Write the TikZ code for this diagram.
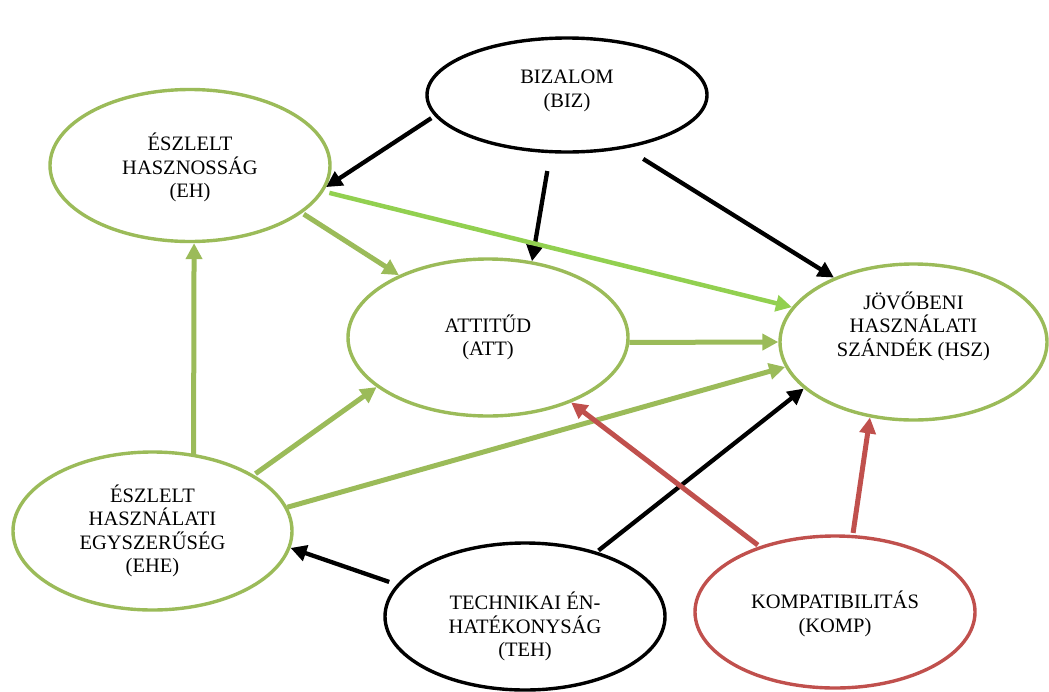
\documentclass[tikz,border=0pt]{standalone}
\usepackage{fontspec}
\setmainfont{Liberation Serif}
\usetikzlibrary{arrows.meta,shapes.geometric}
\definecolor{olivegreen}{HTML}{9BBB59}
\definecolor{lightgreen}{HTML}{92D050}
\definecolor{brickred}{HTML}{C0504D}
\begin{document}
\begin{tikzpicture}[x=1pt,y=1pt,
  ell/.style={ellipse, draw, line width=3.4pt, inner sep=0pt, minimum width=280pt},
  gell/.style={ell, draw=olivegreen},
  bell/.style={ell, draw=black},
  rell/.style={ell, draw=brickred},
  lbl/.style={font=\fontsize{20.5}{23.5}\selectfont, align=center, text=black, inner sep=0pt},
  tip/.style={-{Triangle[length=16pt,width=16pt]}},
  barr/.style={tip, line width=4.3pt, draw=black},
  garr/.style={tip, line width=5pt, draw=olivegreen},
  lgarr/.style={tip, line width=4.5pt, draw=lightgreen},
  rarr/.style={tip, line width=5pt, draw=brickred},
]
\useasboundingbox (0,0) rectangle (1049,-691);

% constructs
\node[bell, minimum height=114pt,
  label={[lbl, yshift=4pt]center:{BIZALOM\\(BIZ)}}] (biz) at (567,-95) {};
\node[gell, minimum height=152pt,
  label={[lbl, yshift=-2pt]center:{ÉSZLELT\\HASZNOSSÁG\\(EH)}}] (eh) at (190,-165.5) {};
\node[gell, minimum height=157pt,
  label={[lbl]center:{ATTITŰD\\(ATT)}}] (att) at (488,-337.5) {};
\node[gell, minimum width=267pt, minimum height=156pt,
  label={[lbl, yshift=16pt]center:{JÖVŐBENI\\HASZNÁLATI\\SZÁNDÉK (HSZ)}}] (hsz) at (913.5,-342) {};
\node[gell, minimum width=279pt, minimum height=158pt,
  label={[lbl]center:{ÉSZLELT\\HASZNÁLATI\\EGYSZERŰSÉG\\(EHE)}}] (ehe) at (152.5,-531) {};
\node[bell, minimum height=147pt,
  label={[lbl, yshift=-10pt]center:{TECHNIKAI ÉN-\\HATÉKONYSÁG\\(TEH)}}] (teh) at (525,-616.5) {};
\node[rell, minimum height=152pt,
  label={[lbl, yshift=-2pt]center:{KOMPATIBILITÁS\\(KOMP)}}] (komp) at (835,-612) {};

% paths
\draw[barr, shorten <=4pt] (biz.189) -- (eh.-9);
\draw[barr, shorten <=18pt] (biz.-106) -- (att.60);
\draw[barr, shorten <=20pt] (biz.-42) -- (hsz.141);
\draw[lgarr, shorten <=6pt] (eh.-11) -- (hsz.164);
\draw[garr, shorten <=2pt] (eh.-23) -- (att.145);
\draw[garr] (att.-2) -- (hsz.180);
\draw[garr] (ehe.62) -- (eh.-87);
\draw[garr, shorten <=2pt] (ehe.29) -- (att.204);
\draw[garr] (ehe.10) -- (hsz.191);
\draw[barr, shorten <=8pt] (teh.166) -- (ehe.-7);
\draw[barr, shorten <=2pt] (teh.42) -- (hsz.203);
\draw[rarr, shorten <=2pt] (komp.139) -- (att.-38);
\draw[rarr, shorten <=2pt] (komp.77) -- (hsz.-120);
\end{tikzpicture}
\end{document}
